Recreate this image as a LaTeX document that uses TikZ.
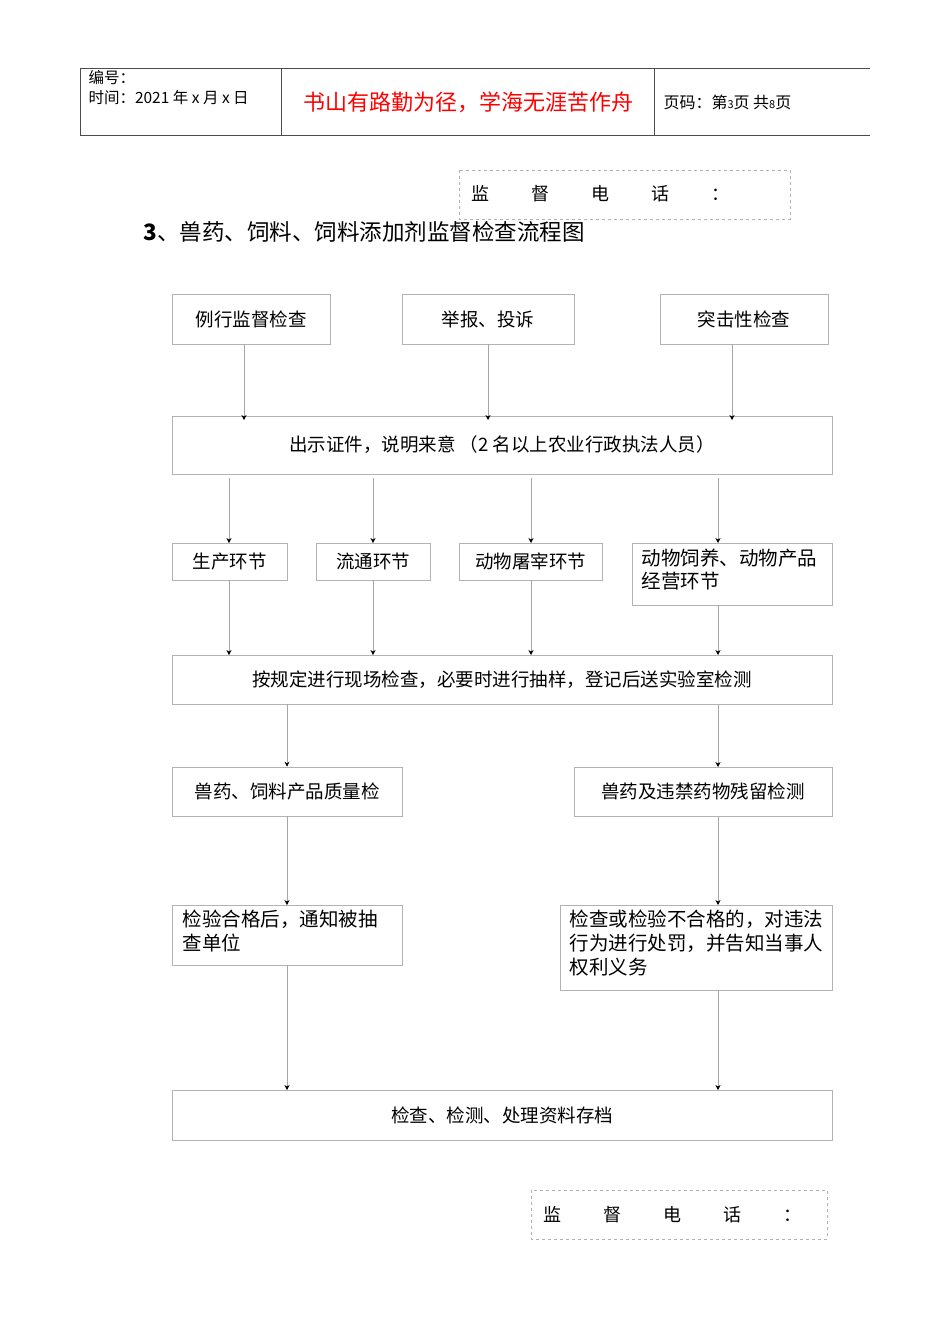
\documentclass[tikz,border=0pt]{standalone}
\usepackage{fontspec}
\setmainfont{Noto Sans CJK SC}
\usetikzlibrary{positioning,arrows.meta}

\begin{document}
\begin{tikzpicture}[x=1pt,y=-1pt,
    box/.style={draw=black!30,line width=0.6pt,font=\fontsize{18.5}{24}\selectfont},
    tel/.style={draw=black!30,dashed,line width=0.6pt},
    flow/.style={draw=black!35,line width=0.6pt,-{Stealth[black,length=5pt,width=5pt]}}]
    \useasboundingbox (0,0) rectangle (950,1344);
    % Page header
    \draw[black!70,line width=0.8pt] (80,68) -- (870,68) (80,135) -- (870,135)
        (80,68) -- (80,135) (281,68) -- (281,135) (654,68) -- (654,135);
    \node[anchor=north west,align=left,font=\fontsize{15.5}{20}\selectfont] (hdl) at (85,67)
        {编号：\\时间：2021 年 x 月 x 日};
    \node[text=red,font=\fontsize{22}{26}\selectfont] (hdm) at (468,102) {书山有路勤为径，学海无涯苦作舟};
    \node[anchor=west,font=\fontsize{16}{20}\selectfont] (hdr) at (660,102)
        {页码：第{\fontsize{11}{12}\selectfont 3}页 共{\fontsize{11}{12}\selectfont 8}页};
    % Telephone boxes
    \draw[tel] (459,170) rectangle (790,219);
    \node[anchor=west,font=\fontsize{18}{20}\selectfont] (tel1) at (468,194)
        {监\hspace{42pt}督\hspace{42pt}电\hspace{42pt}话\hspace{42pt}：};
    \draw[tel] (531,1190) rectangle (827,1239);
    \node[anchor=west,font=\fontsize{18}{20}\selectfont] (tel2) at (540,1215)
        {监\hspace{42pt}督\hspace{42pt}电\hspace{42pt}话\hspace{42pt}：};
    % Title
    \node[anchor=west,font=\fontsize{22.5}{26}\selectfont] (title) at (140,232)
        {\textbf{3}、兽药、饲料、饲料添加剂监督检查流程图};
    % Sources
    \node[box,minimum width=158pt,minimum height=50pt] (rout) at (251,319) {例行监督检查};
    \node[box,minimum width=172pt,minimum height=50pt] (rept) at (488,319) {举报、投诉};
    \node[box,minimum width=168pt,minimum height=50pt] (surp) at (744,319) {突击性检查};
    \node[box,minimum width=660pt,minimum height=58pt] (cert) at (502,445)
        {出示证件，说明来意 （2 名以上农业行政执法人员）};
    % Links
    \node[box,minimum width=115pt,minimum height=37pt] (prod) at (229.5,561.5) {生产环节};
    \node[box,minimum width=114pt,minimum height=37pt] (circ) at (373,561.5) {流通环节};
    \node[box,minimum width=143pt,minimum height=37pt] (slau) at (530.5,561.5) {动物屠宰环节};
    \node[draw=black!30,line width=0.6pt,anchor=north west,minimum width=200pt,minimum height=62pt] (feed) at (632,543) {};
    \node[anchor=north west,align=left,font=\fontsize{19.5}{23}\selectfont] (feedt) at (638,545)
        {动物饲养、动物产品\\经营环节};
    \node[box,minimum width=660pt,minimum height=49pt] (insp) at (502,679.5)
        {按规定进行现场检查，必要时进行抽样，登记后送实验室检测};
    % Tests
    \node[box,minimum width=230pt,minimum height=49pt] (qual) at (287,791.5) {兽药、饲料产品质量检};
    \node[box,minimum width=258pt,minimum height=49pt] (resi) at (703,791.5) {兽药及违禁药物残留检测};
    \node[draw=black!30,line width=0.6pt,anchor=north west,minimum width=230pt,minimum height=60pt] (pass) at (172,905) {};
    \node[anchor=north west,align=left,font=\fontsize{19.5}{24}\selectfont] (passt) at (179,906)
        {检验合格后，通知被抽\\查单位};
    \node[draw=black!30,line width=0.6pt,anchor=north west,minimum width=272pt,minimum height=85pt] (fail) at (560,905) {};
    \node[anchor=north west,align=left,font=\fontsize{19.5}{24}\selectfont] (failt) at (566,906)
        {检查或检验不合格的，对违法\\行为进行处罚，并告知当事人\\权利义务};
    \node[box,minimum width=660pt,minimum height=50pt] (arch) at (502,1115) {检查、检测、处理资料存档};
    % Arrows
    \foreach \x in {244,488,732}
        \draw[flow] (\x,344) -- (\x,420);
    \foreach \x in {229,373,531,718} {
        \draw[flow] (\x,478) -- (\x,543);
    }
    \foreach \x/\y in {229/580,373/580,531/580,718/605}
        \draw[flow] (\x,\y) -- (\x,655);
    \draw[flow] (287,704) -- (qual.north);
    \draw[flow] (718,704) -- (718,767);
    \draw[flow] (qual.south) -- (pass.north -| qual.south);
    \draw[flow] (718,816) -- (718,905);
    \draw[flow] (287,965) -- (287,1090);
    \draw[flow] (718,990) -- (718,1090);
\end{tikzpicture}
\end{document}
